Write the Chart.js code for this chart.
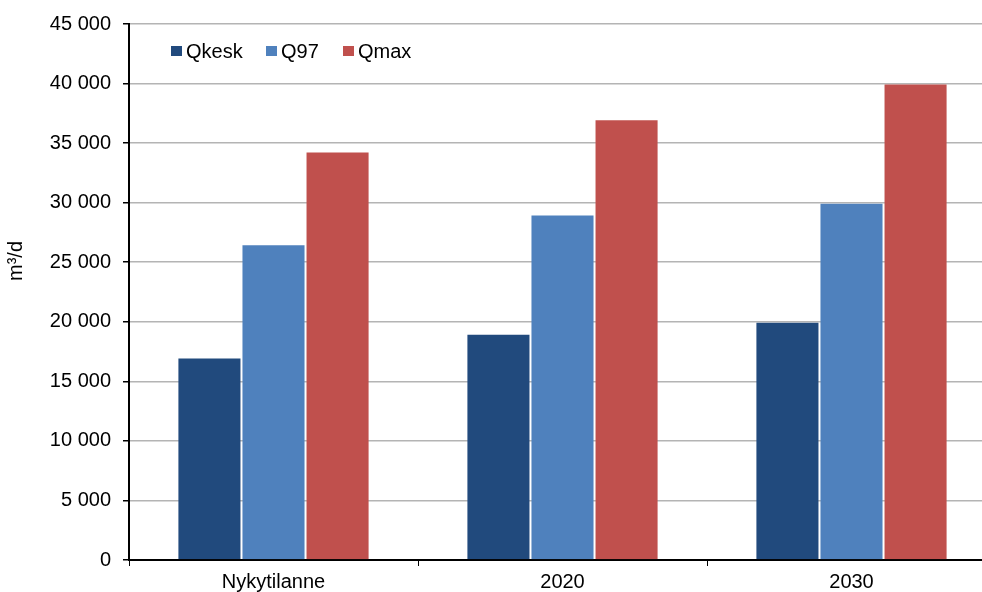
<!DOCTYPE html>
<html>
<head>
<meta charset="utf-8">
<script src="https://cdn.jsdelivr.net/npm/chart.js@4"></script>
<style>
  html, body { margin: 0; padding: 0; background: #fff; overflow: hidden; }
  #wrap { width: 1000px; height: 592px; }
</style>
</head>
<body>
<div id="wrap"><canvas id="flowChart" width="1000" height="592"></canvas></div>
<script>
// Flow volumes per scenario, m3/d
const categories = ['Nykytilanne', '2020', '2030'];
const qkesk = [17000, 19000, 20000];
const q97 = [26500, 29000, 30000];
const qmax = [34300, 37000, 40000];

const seriesNames = ['Qkesk', 'Q97', 'Qmax'];
const seriesColors = ['#214a7d', '#4f81bd', '#c0504d'];
const yTitle = 'm³/d';

const FONT = 'Liberation Sans, Arial, sans-serif';
const FONT_SIZE = 20;

function formatThousands(v) {
    return String(v).replace(/\B(?=(\d{3})+(?!\d))/g, ' ');
}

// legend inside the plot area (top-left) and the rotated y title
const extras = {
    id: 'extras',
    afterDraw(chart) {
        const ctx = chart.ctx;
        const y = 51;
        const starts = [171, 266, 343];
        ctx.save();
        ctx.font = FONT_SIZE + 'px ' + FONT;
        ctx.textBaseline = 'middle';
        chart.data.datasets.forEach((ds, i) => {
            ctx.fillStyle = ds.backgroundColor;
            ctx.fillRect(starts[i], y - 5, 11, 10);
            ctx.fillStyle = '#000';
            ctx.fillText(ds.label, starts[i] + 15, y + 1);
        });
        ctx.translate(16, 261);
        ctx.rotate(-Math.PI / 2);
        ctx.textAlign = 'center';
        ctx.fillText(yTitle, 0, 0);
        ctx.restore();
    }
};

const ctx = document.getElementById('flowChart').getContext('2d');
new Chart(ctx, {
    type: 'bar',
    data: {
        labels: categories,
        datasets: [qkesk, q97, qmax].map((values, idx) => ({
            label: seriesNames[idx],
            data: values,
            backgroundColor: seriesColors[idx],
            borderColor: 'rgba(255,255,255,0.12)',
            borderWidth: 1,
            barPercentage: 1,
            categoryPercentage: 0.665
        }))
    },
    options: {
        responsive: false,
        animation: false,
        layout: { padding: { top: 21, right: 4, left: 0, bottom: 0 } },
        plugins: {
            legend: { display: false },
            tooltip: { enabled: false }
        },
        scales: {
            x: {
                grid: {
                    display: true,
                    drawOnChartArea: false,
                    drawTicks: true,
                    offset: true,
                    tickLength: 6,
                    tickColor: '#000'
                },
                border: { color: '#000', width: 2 },
                ticks: { color: '#000', font: { family: FONT, size: FONT_SIZE }, padding: 4 },
                afterFit: scale => { scale.height = 32; }
            },
            y: {
                min: 0,
                max: 45000,
                ticks: {
                    stepSize: 5000,
                    color: '#000',
                    padding: 12,
                    font: { family: FONT, size: FONT_SIZE },
                    callback: v => formatThousands(v)
                },
                grid: {
                    color: '#b4b4b4',
                    lineWidth: 1.5,
                    tickLength: 6,
                    tickColor: '#000'
                },
                border: { color: '#000', width: 2 },
                afterFit: scale => { scale.width = 129; }
            }
        }
    },
    plugins: [extras]
});
</script>
</body>
</html>
